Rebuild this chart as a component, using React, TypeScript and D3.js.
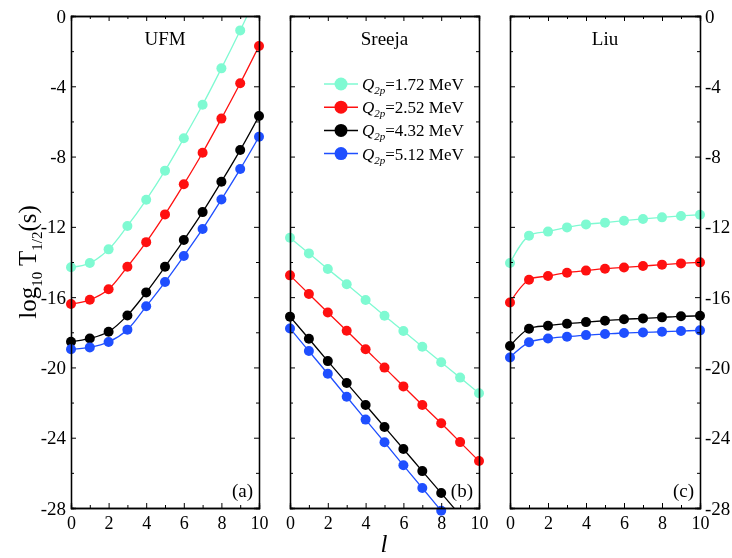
import * as d3 from "d3";
import { useEffect, useRef } from "react";

const L = [0, 1, 2, 3, 4, 5, 6, 7, 8, 9, 10];

const panelNames = ["UFM", "Sreeja", "Liu"];
const panelTags = ["(a)", "(b)", "(c)"];
const qLabels = ["=1.72 MeV", "=2.52 MeV", "=4.32 MeV", "=5.12 MeV"];
const colors = ["#7ffad2", "#ff1010", "#000000", "#1f4fff"];

// UFM
const ufm172 = [-14.3, -14.06, -13.28, -11.95, -10.46, -8.8, -6.96, -5.05, -2.98, -0.82, 1.43];
const ufm252 = [-16.39, -16.15, -15.55, -14.27, -12.87, -11.29, -9.58, -7.78, -5.84, -3.83, -1.71];
const ufm432 = [-18.54, -18.35, -17.97, -17.04, -15.73, -14.27, -12.75, -11.16, -9.43, -7.63, -5.69];
const ufm512 = [-18.97, -18.86, -18.55, -17.85, -16.52, -15.14, -13.66, -12.12, -10.44, -8.71, -6.87];

// Sreeja
const sre172 = [-12.62, -13.51, -14.4, -15.27, -16.16, -17.06, -17.93, -18.82, -19.71, -20.58, -21.47];
const sre252 = [-14.76, -15.82, -16.87, -17.91, -18.97, -20.01, -21.08, -22.14, -23.18, -24.25, -25.33];
const sre432 = [-17.11, -18.37, -19.64, -20.89, -22.14, -23.39, -24.64, -25.9, -27.15, -28.41, -29.66];
const sre512 = [-17.78, -19.07, -20.36, -21.67, -22.97, -24.26, -25.57, -26.86, -28.16, -29.45, -30.75];

// Liu
const liu172 = [-14.06, -12.5, -12.27, -12.03, -11.86, -11.76, -11.65, -11.55, -11.46, -11.38, -11.31];
const liu252 = [-16.3, -15.01, -14.8, -14.61, -14.49, -14.38, -14.31, -14.23, -14.15, -14.08, -14.02];
const liu432 = [-18.78, -17.8, -17.63, -17.51, -17.42, -17.34, -17.26, -17.21, -17.15, -17.09, -17.06];
const liu512 = [-19.43, -18.57, -18.35, -18.25, -18.16, -18.1, -18.04, -18.01, -17.97, -17.93, -17.89];

const panelData = [
  [ufm172, ufm252, ufm432, ufm512],
  [sre172, sre252, sre432, sre512],
  [liu172, liu252, liu432, liu512],
];

const yMajor = [0, -4, -8, -12, -16, -20, -24, -28];
const yMinor = [-2, -6, -10, -14, -18, -22, -26];
const xMajor = [0, 2, 4, 6, 8, 10];
const xMinor = [1, 3, 5, 7, 9];

const W = 732;
const H = 558;
const FONT = "Liberation Serif, Times New Roman, serif";

const App = () => {
  const ref = useRef<SVGSVGElement>(null);

  useEffect(() => {
    const svg = d3.select(ref.current);
    svg.selectAll("*").remove();

    const panelX = [
      [71, 259],
      [290, 479],
      [510, 700],
    ];
    const top = 16;
    const bottom = 508;
    const y = d3.scaleLinear().domain([-28, 0]).range([bottom, top]);
    const fmt = (d: any) => String(d);

    const txt = (sel: any) => sel.attr("font-family", FONT).attr("fill", "#000");

    panelX.forEach(([x0, x1], p) => {
      const x = d3.scaleLinear().domain([0, 10]).range([x0, x1]);
      const g = svg.append("g");

      // clip
      const cid = "clip" + p;
      svg.append("defs").append("clipPath").attr("id", cid)
        .append("rect").attr("x", x0 - 8).attr("y", top).attr("width", x1 - x0 + 16).attr("height", bottom - top);

      const line = d3.line<number>()
        .x((_, i) => x(L[i]))
        .y(d => y(d))
        .curve(d3.curveCatmullRom);

      panelData[p].forEach((vals, s) => {
        g.append("path")
          .attr("d", line(vals))
          .attr("fill", "none")
          .attr("stroke", colors[s])
          .attr("stroke-width", 1.3)
          .attr("clip-path", `url(#${cid})`);
        g.selectAll(null)
          .data(vals.map((v, i) => ({ v, l: L[i] })).filter(d => d.v <= 0.3 && d.v >= -28.3))
          .enter()
          .append("circle")
          .attr("cx", d => x(d.l))
          .attr("cy", d => y(d.v))
          .attr("r", 5)
          .attr("fill", colors[s]);
      });

      // axes, ticks point inward
      const ax = svg.append("g");
      const addAxis = (axis: any, tx: number, ty: number, labels: boolean, fs: number) => {
        const a = ax.append("g").attr("transform", `translate(${tx},${ty})`).call(axis);
        a.attr("font-family", FONT).attr("font-size", fs);
        a.select(".domain").attr("stroke", "#000").attr("stroke-width", 1.3);
        a.selectAll(".tick line").attr("stroke", "#000").attr("stroke-width", 1);
        txt(a.selectAll("text")).attr("font-size", fs);
        if (!labels) a.selectAll("text").remove();
        return a;
      };
      // left
      addAxis(d3.axisLeft(y).tickValues(yMajor).tickSize(-5).tickPadding(5).tickFormat(fmt), x0, 0, p === 0, 19);
      addAxis(d3.axisLeft(y).tickValues(yMinor).tickSize(-3).tickFormat(() => ""), x0, 0, false, 19);
      // right
      addAxis(d3.axisRight(y).tickValues(yMajor).tickSize(-5).tickPadding(5).tickFormat(fmt), x1, 0, p === 2, 19);
      addAxis(d3.axisRight(y).tickValues(yMinor).tickSize(-3).tickFormat(() => ""), x1, 0, false, 19);
      // bottom
      addAxis(d3.axisBottom(x).tickValues(xMajor).tickSize(-5).tickPadding(8).tickFormat(fmt), 0, bottom, true, 18);
      addAxis(d3.axisBottom(x).tickValues(xMinor).tickSize(-3).tickFormat(() => ""), 0, bottom, false, 18);
      // top
      addAxis(d3.axisTop(x).tickValues(xMajor).tickSize(-5).tickFormat(() => ""), 0, top, false, 18);
      addAxis(d3.axisTop(x).tickValues(xMinor).tickSize(-3).tickFormat(() => ""), 0, top, false, 18);

      // title and tag
      txt(svg.append("text"))
        .attr("x", (x0 + x1) / 2)
        .attr("y", 45)
        .attr("text-anchor", "middle")
        .attr("font-size", 19)
        .text(panelNames[p]);
      txt(svg.append("text"))
        .attr("x", x1 - 6)
        .attr("y", 497)
        .attr("text-anchor", "end")
        .attr("font-size", 19)
        .text(panelTags[p]);
    });

    // legend
    const lg = svg.append("g");
    qLabels.forEach((t, i) => {
      const ly = 84 + i * 23.2;
      lg.append("line").attr("x1", 324).attr("x2", 358).attr("y1", ly).attr("y2", ly)
        .attr("stroke", colors[i]).attr("stroke-width", 1.5);
      lg.append("circle").attr("cx", 341).attr("cy", ly).attr("r", 6.5).attr("fill", colors[i]);
      const tx = txt(lg.append("text")).attr("x", 362).attr("y", ly + 6).attr("font-size", 17);
      tx.append("tspan").attr("font-style", "italic").text("Q");
      tx.append("tspan").attr("font-style", "italic").attr("font-size", 11).attr("dy", 4).text("2p");
      tx.append("tspan").attr("dy", -4).text(t);
    });

    // y label
    const yl = txt(svg.append("text"))
      .attr("transform", "translate(36,262) rotate(-90)")
      .attr("text-anchor", "middle")
      .attr("font-size", 25);
    yl.append("tspan").text("log");
    yl.append("tspan").attr("font-size", 15).attr("dy", 6).text("10");
    yl.append("tspan").attr("dy", -6).text(" T");
    yl.append("tspan").attr("font-size", 15).attr("dy", 6).text("1/2");
    yl.append("tspan").attr("dy", -6).text("(s)");

    // x label
    txt(svg.append("text"))
      .attr("x", 384)
      .attr("y", 552)
      .attr("text-anchor", "middle")
      .attr("font-size", 25)
      .attr("font-style", "italic")
      .text("l");
  }, []);

  return <svg ref={ref} width={W} height={H} style={{ position: "fixed", left: 0, top: 0 }} />;
};

export default App;
